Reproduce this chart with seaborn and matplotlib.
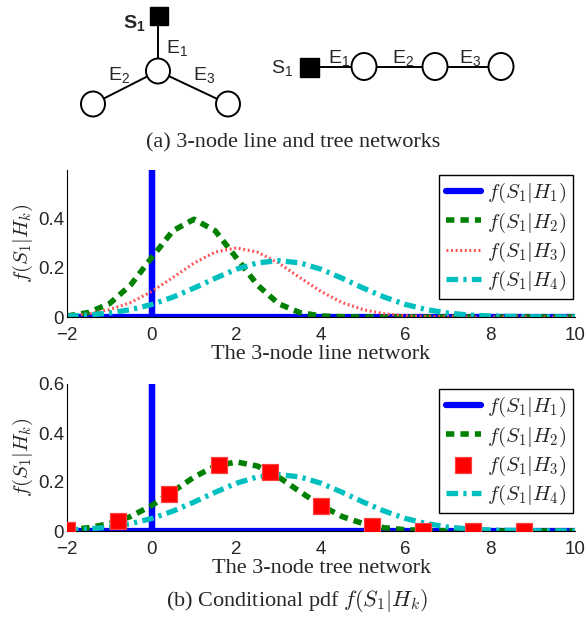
import matplotlib
matplotlib.use("Agg")
import matplotlib.pyplot as plt
from matplotlib.patches import Ellipse, Rectangle
import seaborn as sns

# ---- values ----
x_grid = [-2, -1.5, -1, -0.5, 0, 0.5, 1, 1.5, 2, 2.5, 3, 3.5, 4, 4.5, 5,
          5.5, 6, 6.5, 7, 7.5, 8, 9, 10]

# f(S1|H1): a spike at 0
h1_x = [-2, 0, 0, 0, 10]
h1_y = [0, 0, 0.6, 0, 0]

# line network
line_h2 = [0.004, 0.018, 0.054, 0.130, 0.242, 0.352, 0.399, 0.352, 0.242, 0.130,
           0.054, 0.018, 0.004, 0.001, 0, 0, 0, 0, 0, 0, 0, 0, 0]
line_h3 = [0.005, 0.013, 0.030, 0.059, 0.104, 0.161, 0.220, 0.265, 0.282, 0.265,
           0.220, 0.161, 0.104, 0.059, 0.030, 0.013, 0.005, 0.002, 0.001, 0, 0, 0, 0]
line_h4 = [0.004, 0.008, 0.016, 0.030, 0.051, 0.081, 0.118, 0.158, 0.195, 0.221,
           0.230, 0.221, 0.195, 0.158, 0.118, 0.081, 0.051, 0.030, 0.016, 0.008,
           0.004, 0.001, 0]

# tree network
tree_h2 = line_h3
tree_h3_x = [-2, -0.8, 0.4, 1.6, 2.8, 4.0, 5.2, 6.4, 7.6, 8.8]
tree_h3_y = [0.005, 0.040, 0.149, 0.271, 0.240, 0.104, 0.022, 0.002, 0, 0]
tree_h4 = line_h4

x_ticks = [-2, 0, 2, 4, 6, 8, 10]
labels = [r'$f(S_1|H_1)$', r'$f(S_1|H_2)$', r'$f(S_1|H_3)$', r'$f(S_1|H_4)$']

BLUE = (0, 0, 1)
GREEN = (0, 0.5, 0)
RED = (1, 0, 0)
RED_DOT = (1, 0.3, 0.3)
CYAN = (0, 0.75, 0.75)

sns.set_style("white")
plt.rcParams['font.family'] = ['Liberation Sans', 'DejaVu Sans']
plt.rcParams['mathtext.fontset'] = 'cm'
SERIF = ['Liberation Serif', 'DejaVu Serif']

fig = plt.figure(figsize=(5.87, 6.18), dpi=100)

# ---- network sketch (pixel coordinates) ----
ax0 = fig.add_axes([0, 0, 1, 1])
ax0.set_xlim(0, 587)
ax0.set_ylim(618, 0)
ax0.axis('off')


def node(x, y, w=24, h=25):
    ax0.add_patch(Ellipse((x, y), w, h, facecolor='white', edgecolor='black', lw=1.4, zorder=3))


def source(x, y, a=18):
    ax0.add_patch(Rectangle((x - a / 2, y - a / 2), a, a, facecolor='black',
                            edgecolor='black', zorder=3))


def tag(x, y, base, sub, **kw):
    ax0.text(x, y, r'$\mathregular{%s_%s}$' % (base, sub), fontsize=14,
             ha='left', va='baseline', **kw)


# tree
ax0.plot([158, 158], [16, 71], color='black', lw=1.4)
ax0.plot([158, 93], [71, 104], color='black', lw=1.4)
ax0.plot([158, 228], [71, 104], color='black', lw=1.4)
source(159, 16)
node(158, 71)
node(93, 104)
node(228, 104)
tag(123, 28, 'S', '1', fontweight='bold')
tag(166, 53, 'E', '1')
tag(108, 80, 'E', '2')
tag(193, 80, 'E', '3')

# line
ax0.plot([309, 501], [67, 67], color='black', lw=1.4)
source(309, 67, 19)
for cx in [364, 435, 501]:
    node(cx, 66.5, 25, 27)
tag(271, 73, 'S', '1')
tag(328, 63, 'E', '1')
tag(392, 63, 'E', '2')
tag(459, 63, 'E', '3')

ax0.text(293, 143, '(a) 3-node line and tree networks', fontsize=16,
         family=SERIF, ha='center', va='center')
ax0.text(297, 600, r'(b) Conditional pdf $f(S_1|H_k)$', fontsize=16,
         family=SERIF, ha='center', va='center')


def panel(rect, h2, h3, h4, h3_x, yticks, yticklabels, xlabel, h3_markers):
    ax = fig.add_axes(rect)
    sns.lineplot(x=h1_x, y=h1_y, ax=ax, color=BLUE, lw=4.5, label=labels[0],
                 estimator=None, sort=False)
    sns.lineplot(x=x_grid, y=h2, ax=ax, color=GREEN, lw=4, label=labels[1],
                 estimator=None, sort=False)
    ax.lines[-1].set_dashes((1.5, 1.1))
    if h3_markers:
        sns.scatterplot(x=h3_x, y=h3, ax=ax, color=RED, marker='s', s=120,
                        edgecolor=(1, 0.25, 0.25), label=labels[2], zorder=4)
    else:
        sns.lineplot(x=h3_x, y=h3, ax=ax, color=RED_DOT, lw=2.2, label=labels[2],
                     estimator=None, sort=False)
        ax.lines[-1].set_dashes((0.6, 0.9))
    sns.lineplot(x=x_grid, y=h4, ax=ax, color=CYAN, lw=3.8, label=labels[3],
                 estimator=None, sort=False)
    ax.lines[-1].set_dashes((2.2, 1.0, 0.6, 1.0))
    ax.set_xlim(-2, 10)
    ax.set_ylim(0, 0.6)
    ax.set_xticks(x_ticks)
    ax.set_xticklabels([str(t).replace('-', '\u2212') for t in x_ticks])
    ax.set_yticks(yticks)
    ax.set_yticklabels(yticklabels)
    ax.tick_params(axis='both', direction='in', length=3, labelsize=13.5, width=0.8)
    ax.tick_params(axis='x', pad=7)
    ax.tick_params(axis='y', pad=2)
    ax.set_xlabel(xlabel, fontsize=16, family=SERIF, labelpad=1)
    ax.set_ylabel(r'$f(S_1|H_k)$', fontsize=15, labelpad=2)
    ax.patch.set_alpha(0)
    sns.despine(ax=ax)
    for s in ['left', 'bottom']:
        ax.spines[s].set_linewidth(0.8)
        ax.spines[s].set_color('black')
    leg = ax.legend(loc='upper right', bbox_to_anchor=(0.996, 0.967), borderaxespad=0,
                    frameon=True, fancybox=False, edgecolor='black', framealpha=1,
                    fontsize=15, handlelength=1.7, handletextpad=0.3, borderpad=0.3,
                    labelspacing=0.25)
    leg.get_frame().set_linewidth(1.0)
    return ax


panel([67 / 587, 1 - 317 / 618, 508 / 587, 147 / 618], line_h2, line_h3, line_h4, x_grid,
      [0, 0.2, 0.4], ['0', '0.2', '0.4'], 'The 3-node line network', False)
panel([67 / 587, 1 - 531 / 618, 508 / 587, 147 / 618], tree_h2, tree_h3_y, tree_h4, tree_h3_x,
      [0, 0.2, 0.4, 0.6], ['0', '0.2', '0.4', '0.6'], 'The 3-node tree network', True)

fig.savefig('out.png', dpi=100)
